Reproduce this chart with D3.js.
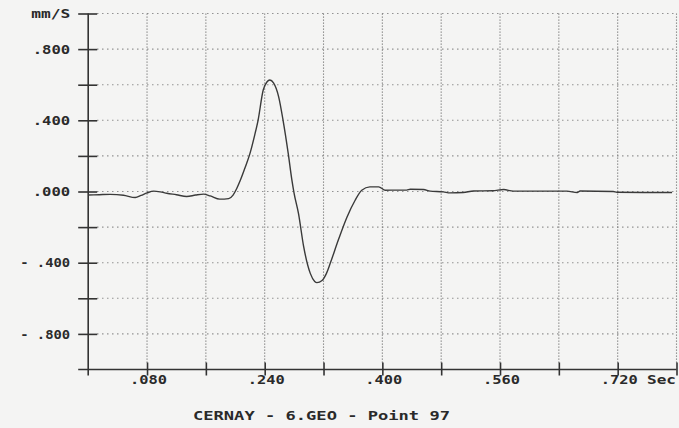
<!DOCTYPE html>
<html>
<head>
<meta charset="utf-8">
<script src="https://cdn.jsdelivr.net/npm/d3@7/dist/d3.min.js"></script>
<style>
  html, body { margin: 0; padding: 0; background: #f4f4f3; }
  svg { display: block; }
  text { font-family: "DejaVu Sans Mono", "Liberation Mono", monospace; font-weight: bold; fill: #2a2a2a; }
</style>
</head>
<body>
<svg id="chart" width="679" height="428"></svg>
<script>
// Geophone record: particle velocity (mm/s) against time (s)
const timeSec = [
  0.000, 0.015, 0.030, 0.048, 0.064, 0.072, 0.080, 0.089, 0.098, 0.107,
  0.120, 0.134, 0.146, 0.157, 0.166, 0.179, 0.191, 0.197, 0.202, 0.207,
  0.213, 0.220, 0.226, 0.231, 0.238, 0.243, 0.247, 0.252, 0.259, 0.265,
  0.272, 0.277, 0.280, 0.286, 0.293, 0.302, 0.308, 0.311, 0.318, 0.324,
  0.329, 0.340, 0.352, 0.363, 0.372, 0.383, 0.395, 0.404, 0.420, 0.433,
  0.438, 0.456, 0.465, 0.483, 0.492, 0.510, 0.524, 0.550, 0.565, 0.578,
  0.620, 0.651, 0.665, 0.669, 0.714, 0.719, 0.794
];
const velocity = [
  -0.020, -0.018, -0.016, -0.021, -0.034, -0.022, -0.008, 0.002, -0.002, -0.010,
  -0.018, -0.028, -0.020, -0.015, -0.025, -0.043, -0.040, -0.020, 0.017, 0.064,
  0.130, 0.214, 0.310, 0.400, 0.570, 0.615, 0.626, 0.610, 0.532, 0.400,
  0.214, 0.064, -0.010, -0.124, -0.310, -0.460, -0.505, -0.512, -0.500, -0.460,
  -0.405, -0.274, -0.143, -0.049, 0.007, 0.026, 0.026, 0.007, 0.008, 0.008,
  0.013, 0.011, 0.002, -0.002, -0.008, -0.006, 0.003, 0.004, 0.011, 0.002,
  0.002, 0.002, -0.006, 0.003, 0.000, -0.004, -0.006
];

// Axis ticks and the labels printed next to them
const yTicks = [-0.8, -0.6, -0.4, -0.2, 0.0, 0.2, 0.4, 0.6, 0.8, 1.0];
const yLabels = { "-0.8": "- .800", "-0.4": "- .400", "0": ".000", "0.4": ".400", "0.8": ".800", "1": "mm/S" };
const xTicks = [0.08, 0.16, 0.24, 0.32, 0.40, 0.48, 0.56, 0.64, 0.72, 0.80];
const xLabels = { "0.08": ".080", "0.24": ".240", "0.4": ".400", "0.56": ".560", "0.72": ".720" };
const unitLabel = "Sec";
const title = "CERNAY - 6.GEO - Point 97";

const svg = d3.select("#chart");
const x = d3.scaleLinear().domain([0, 0.8]).range([88.2, 676.5]);
const y = d3.scaleLinear().domain([-1, 1]).range([369.5, 13.5]);
const key = v => String(+v.toFixed(2));

const ink = "#333";
const fontPx = 11.5;

// wide printer-style lettering: glyphs stretched to the printed width
function stretch(sel, width) {
  sel.attr("font-size", fontPx).attr("textLength", width).attr("lengthAdjust", "spacingAndGlyphs");
}

// dotted grid
const grid = svg.append("g");
grid.selectAll("line.h").data(yTicks).join("line")
  .attr("x1", x(0) + 9).attr("x2", x(0.8))
  .attr("y1", d => y(d)).attr("y2", d => y(d))
  .attr("stroke", "#7a7a7a").attr("stroke-width", 1.1).attr("stroke-dasharray", "1.2,3.8");
grid.selectAll("line.v").data(xTicks).join("line")
  .attr("x1", d => x(d)).attr("x2", d => x(d))
  .attr("y1", y(1)).attr("y2", y(-1) - 6)
  .attr("stroke", "#7a7a7a").attr("stroke-width", 1.1).attr("stroke-dasharray", "1.2,1.8");

// y axis: ticks cross the axis line
const yAxis = svg.append("g").attr("transform", `translate(${x(0)},0)`)
  .call(d3.axisLeft(y).tickValues(yTicks).tickSize(10).tickPadding(8)
    .tickFormat(d => yLabels[key(d)] || ""));
yAxis.select(".domain").remove();
yAxis.selectAll(".tick line").attr("x1", 9).attr("stroke", ink).attr("stroke-width", 1.6);
yAxis.selectAll(".tick text").attr("x", -18).attr("dy", "0.36em")
  .each(function (d) {
    const s = yLabels[key(d)];
    if (s) stretch(d3.select(this), s.length >= 6 ? 50 : (s === "mm/S" ? 39 : 37.5));
  });
svg.append("line").attr("x1", x(0)).attr("x2", x(0)).attr("y1", y(1)).attr("y2", y(-1) + 6)
  .attr("stroke", ink).attr("stroke-width", 1.6);

// x axis
const xAxis = svg.append("g").attr("transform", `translate(0,${y(-1)})`)
  .call(d3.axisBottom(x).tickValues(xTicks).tickSize(6).tickPadding(0)
    .tickFormat(d => xLabels[key(d)] || ""));
xAxis.select(".domain").remove();
xAxis.selectAll(".tick line").attr("y1", -7).attr("stroke", ink).attr("stroke-width", 1.6);
xAxis.selectAll(".tick text").attr("dy", "0.74em").attr("dx", 1)
  .each(function (d) {
    if (xLabels[key(d)]) stretch(d3.select(this), 37);
  });
svg.append("line").attr("x1", x(0) - 10).attr("x2", x(0.8)).attr("y1", y(-1)).attr("y2", y(-1))
  .attr("stroke", ink).attr("stroke-width", 1.6);
svg.append("text").attr("x", 647).attr("y", y(-1) + 14.5).call(stretch, 29).text(unitLabel);

// velocity trace
const pts = timeSec.map((t, i) => [t, velocity[i]]);
svg.append("path").datum(pts)
  .attr("fill", "none").attr("stroke", "#3a3a3a").attr("stroke-width", 1.4)
  .attr("stroke-linejoin", "round")
  .attr("d", d3.line().x(d => x(d[0])).y(d => y(d[1])).curve(d3.curveMonotoneX));

// caption
svg.append("text").attr("x", 193).attr("y", 419.5).call(stretch, 257).text(title);
</script>
</body>
</html>
